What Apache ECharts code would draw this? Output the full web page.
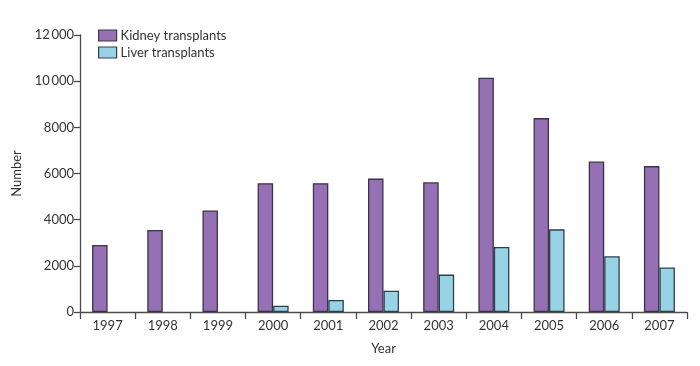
<!DOCTYPE html>
<html><head><meta charset="utf-8">
<script src="https://cdn.jsdelivr.net/npm/echarts@6/dist/echarts.min.js"></script>
<style>html,body{margin:0;padding:0;background:#fff}#c{width:700px;height:366px}</style>
</head><body><div id="c"></div>
<script>
const years = ['1997','1998','1999','2000','2001','2002','2003','2004','2005','2006','2007'];
const kidney = [2900, 3550, 4400, 5580, 5580, 5780, 5620, 10150, 8400, 6520, 6320];
const liver = [null, null, null, 270, 520, 920, 1620, 2820, 3580, 2420, 1930];
const seriesNames = ['Kidney transplants', 'Liver transplants'];

const font = 'Lato, "Open Sans", sans-serif';
const axisColor = '#4a4a4a';
const chart = echarts.init(document.getElementById('c'));
chart.setOption({
  animation: false,
  grid: {left: 80, right: 13, top: 35, bottom: 54},
  legend: {
    orient: 'vertical', left: 93, top: 24, itemWidth: 18, itemHeight: 11, itemGap: 4,
    icon: 'rect',
    itemStyle: {borderColor: '#3b3b45', borderWidth: 1.2},
    textStyle: {fontFamily: font, fontSize: 13, color: '#333', padding: [0, 0, 0, -1]},
    data: seriesNames
  },
  xAxis: {
    type: 'category', data: years,
    name: 'Year', nameLocation: 'middle', nameGap: 30,
    nameTextStyle: {fontFamily: font, fontSize: 13, color: '#333'},
    axisLine: {lineStyle: {color: axisColor, width: 1.3}},
    axisTick: {show: true, alignWithLabel: false, length: 7, lineStyle: {color: axisColor, width: 1.3}},
    axisLabel: {fontFamily: font, fontSize: 13, color: '#333', margin: 7}
  },
  yAxis: {
    type: 'value', min: 0, max: 12000, interval: 2000,
    name: 'Number', nameLocation: 'middle', nameGap: 56,
    nameTextStyle: {fontFamily: font, fontSize: 13, color: '#333'},
    axisLine: {show: true, lineStyle: {color: axisColor, width: 1.3}},
    axisTick: {show: true, length: 6, lineStyle: {color: axisColor, width: 1.3}},
    splitLine: {show: false},
    axisLabel: {fontFamily: font, fontSize: 13, color: '#333', margin: 6,
      formatter: v => v >= 10000 ? String(v).replace(/(\d+)(\d{3})$/, '$1\u2009$2') : String(v)}
  },
  series: [
    {name: seriesNames[0], type: 'bar', data: kidney, barWidth: 15.5, barGap: '0%',
     itemStyle: {color: '#9670b4', borderColor: '#3b3347', borderWidth: 1.3}},
    {name: seriesNames[1], type: 'bar', data: liver, barWidth: 15.5, barGap: '0%',
     itemStyle: {color: '#97d3e5', borderColor: '#2f3f48', borderWidth: 1.3}}
  ]
});
</script></body></html>
